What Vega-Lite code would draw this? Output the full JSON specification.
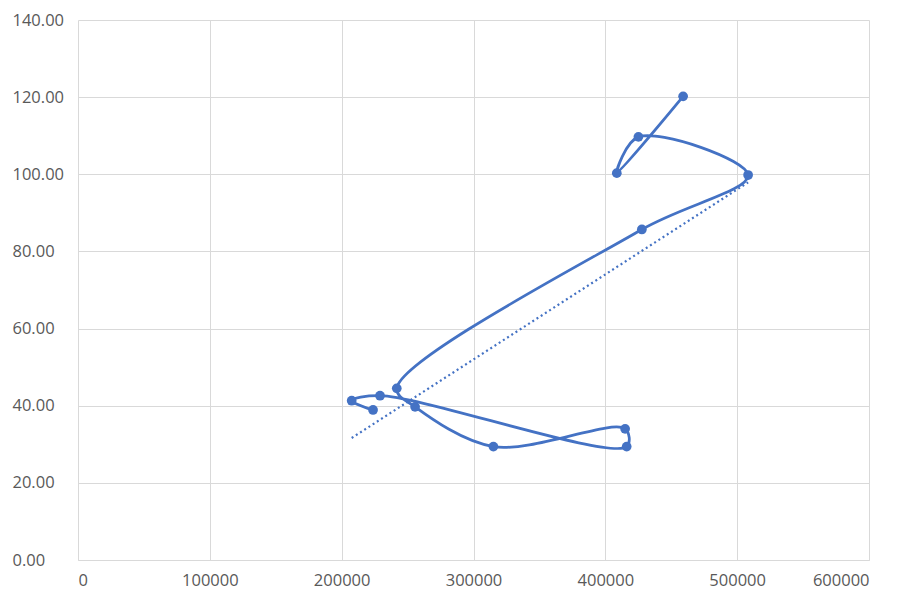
{
  "$schema": "https://vega.github.io/schema/vega-lite/v6.json",
  "width": 791,
  "height": 540,
  "autosize": "none",
  "padding": {"left": 78, "top": 20, "right": 34, "bottom": 31},
  "background": "#ffffff",
  "config": {
    "view": {"stroke": null},
    "axis": {
      "labelFont": "Open Sans",
      "labelFontSize": 16.5,
      "labelColor": "#595959",
      "gridColor": "#d9d9d9",
      "gridWidth": 1,
      "domainColor": "#d9d9d9",
      "ticks": false,
      "tickSize": 0,
      "title": null
    }
  },
  "data": {
    "values": [
      {"seq": 1, "x": 459000, "y": 120.2},
      {"seq": 2, "x": 408700, "y": 100.3},
      {"seq": 3, "x": 425100, "y": 109.7},
      {"seq": 4, "x": 508300, "y": 99.8},
      {"seq": 5, "x": 427700, "y": 85.7},
      {"seq": 6, "x": 241800, "y": 44.5},
      {"seq": 7, "x": 255700, "y": 39.7},
      {"seq": 8, "x": 315100, "y": 29.4},
      {"seq": 9, "x": 415000, "y": 34.0},
      {"seq": 10, "x": 416200, "y": 29.4},
      {"seq": 11, "x": 229100, "y": 42.6},
      {"seq": 12, "x": 207600, "y": 41.3},
      {"seq": 13, "x": 223800, "y": 38.9}
    ]
  },
  "encoding": {
    "x": {
      "field": "x",
      "type": "quantitative",
      "scale": {"domain": [0, 600000], "nice": false, "zero": true},
      "axis": {"values": [0, 100000, 200000, 300000, 400000, 500000, 600000], "format": "d", "labelPadding": 12, "domain": true}
    },
    "y": {
      "field": "y",
      "type": "quantitative",
      "scale": {"domain": [0, 140], "nice": false},
      "axis": {"values": [0, 20, 40, 60, 80, 100, 120, 140], "format": ".2f", "labelAlign": "left", "labelPadding": 66, "domain": false}
    }
  },
  "layer": [
    {
      "transform": [{"regression": "y", "on": "x", "method": "linear"}],
      "mark": {"type": "line", "color": "#4472C4", "strokeWidth": 2.2, "strokeDash": [2, 3], "strokeCap": "butt"}
    },
    {
      "mark": {"type": "line", "color": "#4472C4", "strokeWidth": 2.75, "interpolate": "catmull-rom", "tension": 0.5},
      "encoding": {"order": {"field": "seq", "type": "quantitative"}}
    },
    {
      "mark": {"type": "point", "filled": true, "opacity": 1, "color": "#4472C4", "size": 95}
    }
  ]
}
